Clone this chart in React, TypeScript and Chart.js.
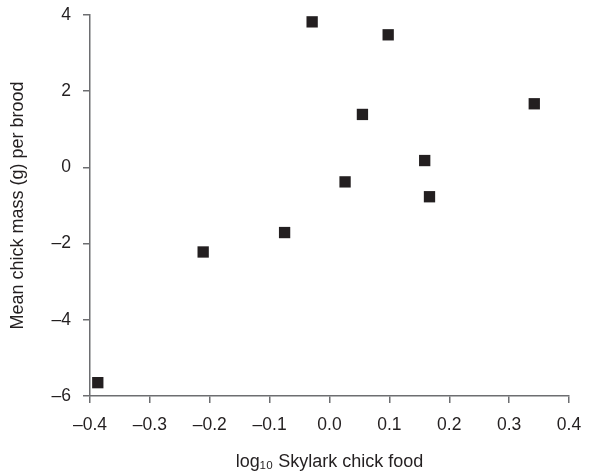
import React, { useEffect, useRef } from "react";
import { Chart, registerables } from "chart.js";

Chart.register(...registerables);

const foodLog10: number[] = [-0.387, -0.211, -0.075, -0.029, 0.026, 0.055, 0.098, 0.159, 0.167, 0.342];
const chickMass: number[] = [-5.65, -2.22, -1.71, 3.82, -0.38, 1.39, 3.48, 0.18, -0.77, 1.67];

const xTitle = "log\u2081\u2080 Skylark chick food";
const yTitle = "Mean chick mass (g) per brood";

const FONT = "'Liberation Sans', Arial, Helvetica, sans-serif";
const TEXT = "#231f20";
const AXIS = "#6d6e71";

export default function App() {
  const ref = useRef<HTMLCanvasElement | null>(null);

  useEffect(() => {
    document.body.style.margin = "0";
    const canvas = ref.current;
    if (!canvas) return;
    const points = foodLog10.map((x, i) => ({ x, y: chickMass[i] }));
    const chart = new Chart(canvas, {
      type: "scatter",
      data: {
        datasets: [
          {
            data: points,
            pointStyle: "rect",
            pointRadius: 8,
            pointHoverRadius: 8,
            pointBackgroundColor: TEXT,
            pointBorderWidth: 0,
            borderWidth: 0,
          },
        ],
      },
      options: {
        responsive: false,
        animation: false,
        layout: { padding: { top: 15, right: 29, left: 0, bottom: 0 } },
        plugins: { legend: { display: false }, tooltip: { enabled: false } },
        scales: {
          x: {
            type: "linear",
            min: -0.4,
            max: 0.4,
            afterFit: (s: any) => {
              s.height = 80;
              s.paddingLeft = 0;
              s.paddingRight = 0;
            },
            ticks: {
              stepSize: 0.1,
              padding: 12,
              color: TEXT,
              font: { family: FONT, size: 17.5 },
              callback: (v: any) => Number(v).toFixed(1).replace("-", "\u2013"),
            },
            grid: { drawOnChartArea: false, drawTicks: true, tickLength: 7, color: AXIS, lineWidth: 1.5 },
            border: { display: true, color: AXIS, width: 1.5 },
            title: {
              display: true,
              text: xTitle,
              color: TEXT,
              font: { family: FONT, size: 18 },
              padding: { top: 0, bottom: 3 },
            },
          },
          y: {
            type: "linear",
            min: -6,
            max: 4,
            afterFit: (s: any) => {
              s.width = 90;
              s.paddingTop = 0;
              s.paddingBottom = 0;
            },
            ticks: {
              stepSize: 2,
              padding: 12,
              color: TEXT,
              font: { family: FONT, size: 17.5 },
              callback: (v: any) => String(Math.round(Number(v))).replace("-", "\u2013"),
            },
            grid: { drawOnChartArea: false, drawTicks: true, tickLength: 7, color: AXIS, lineWidth: 1.5 },
            border: { display: true, color: AXIS, width: 1.5 },
            title: {
              display: true,
              text: yTitle,
              color: TEXT,
              font: { family: FONT, size: 18 },
              padding: { top: 7, bottom: 0 },
            },
          },
        },
      },
    });
    return () => chart.destroy();
  }, []);

  return (
    <div style={{ width: 598, height: 476 }}>
      <canvas ref={ref} width={598} height={476} style={{ display: "block" }} />
    </div>
  );
}
